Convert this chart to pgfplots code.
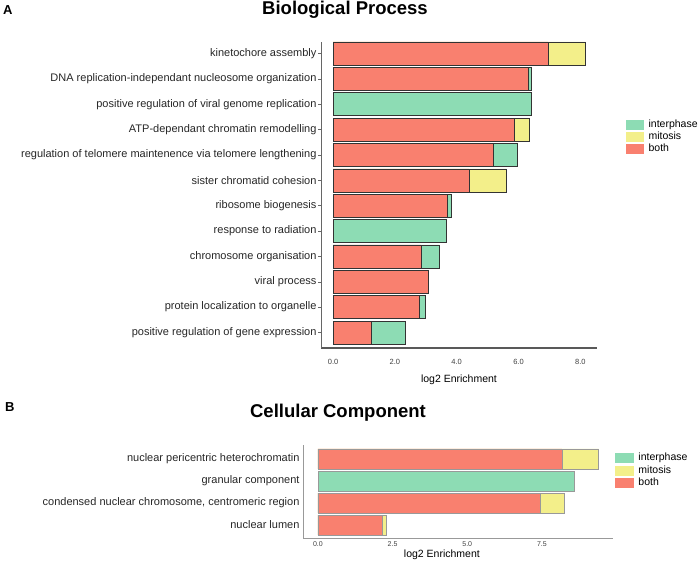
\documentclass[border=0pt]{standalone}
\usepackage{fontspec}
\setmainfont{Liberation Sans}
\usepackage{pgfplots}
\pgfplotsset{compat=1.18}
\definecolor{cboth}{HTML}{F9806F}
\definecolor{cinter}{HTML}{8DDCB4}
\definecolor{cmit}{HTML}{F3EF8A}
\begin{document}
\begin{tikzpicture}[x=1pt,y=1pt]
\path[use as bounding box] (0,0) rectangle (700,562);
\node[anchor=base west, inner sep=0pt, font=\bfseries\fontsize{13}{15}\selectfont] at (3,547.5) {A};
\node[anchor=base, inner sep=0pt, font=\bfseries\fontsize{18.5}{21}\selectfont] at (345,547) {Biological Process};
\begin{axis}[
  at={(321pt,214pt)}, anchor=south west, scale only axis,
  width=276pt, height=306pt,
  xmin=-0.39, xmax=8.54, ymin=-0.611, ymax=11.453,
  axis x line*=bottom, axis y line*=left,
  x axis line style={-, line width=1.2pt, draw=black!65},
  y axis line style={-, line width=0.6pt, draw=black!60},
  /pgf/number format/assume math mode=true,
  xtick={0,2,4,6,8}, xticklabels={0.0,2.0,4.0,6.0,8.0},
  x tick style={draw=none},
  xticklabel style={font=\fontsize{7.5}{8}\selectfont, text=black!75, yshift=-5pt},
  ytick={0,...,11},
  yticklabels={positive regulation of gene expression, protein localization to organelle, viral process, chromosome organisation, response to radiation, ribosome biogenesis, sister chromatid cohesion, regulation of telomere maintenence via telomere lengthening, ATP-dependant chromatin remodelling, positive regulation of viral genome replication, DNA replication-independant nucleosome organization, kinetochore assembly},
  yticklabel style={font=\fontsize{11}{12}\selectfont, text=black!85, xshift=2pt},
  y tick style={draw=black!60, line width=0.5pt},
  tick align=outside, major tick length=3pt,
  xlabel={log2 Enrichment},
  xlabel style={font=\fontsize{10.5}{12}\selectfont, at={(axis description cs:0.5,-0.105)}, anchor=center},
  legend cell align=left,
  legend style={draw=none, fill=none, at={(axis description cs:1.105,0.746)}, anchor=north west,
    font=\fontsize{10.5}{12}\selectfont, inner sep=0pt, row sep=1.5pt,
    nodes={inner sep=0pt, text height=8pt, text depth=2.5pt}},
]
\addlegendimage{legend image code/.code={\fill[cinter] (0pt,-4.5pt) rectangle (17pt,4.5pt); \path (22pt,0pt);}}
\addlegendentry{interphase}
\addlegendimage{legend image code/.code={\fill[cmit] (0pt,-4.5pt) rectangle (17pt,4.5pt); \path (22pt,0pt);}}
\addlegendentry{mitosis}
\addlegendimage{legend image code/.code={\fill[cboth] (0pt,-4.5pt) rectangle (17pt,4.5pt); \path (22pt,0pt);}}
\addlegendentry{both}
% totals (interphase-topped bars)
\addplot[forget plot, xbar, bar width=23pt, bar shift=0pt, fill=cinter, draw=black!80, line width=0.6pt]
  coordinates {(2.35,0) (2.99,1) (3.44,3) (3.67,4) (3.81,5) (5.95,7) (6.40,9) (6.41,10)};
% totals (mitosis-topped bars)
\addplot[forget plot, xbar, bar width=23pt, bar shift=0pt, fill=cmit, draw=black!80, line width=0.6pt]
  coordinates {(5.60,6) (6.36,8) (8.17,11)};
% both
\addplot[forget plot, xbar, bar width=23pt, bar shift=0pt, fill=cboth, draw=black!80, line width=0.6pt]
  coordinates {(1.24,0) (2.80,1) (3.07,2) (2.85,3) (3.71,5) (4.40,6) (5.17,7) (5.88,8) (6.33,10) (6.96,11)};
\end{axis}

\node[anchor=base west, inner sep=0pt, font=\bfseries\fontsize{13}{15}\selectfont] at (5,151) {B};
\node[anchor=base, inner sep=0pt, font=\bfseries\fontsize{18.5}{21}\selectfont] at (338,145) {Cellular Component};
\begin{axis}[
  at={(303pt,24pt)}, anchor=south west, scale only axis,
  width=310pt, height=93pt,
  xmin=-0.50, xmax=9.88, ymin=-0.59, ymax=3.636,
  axis x line*=bottom, axis y line*=left,
  axis line style={-, line width=0.8pt, draw=black!40},
  /pgf/number format/assume math mode=true,
  xtick={0,2.5,5,7.5}, xticklabels={0.0,2.5,5.0,7.5},
  xticklabel style={font=\fontsize{7}{8}\selectfont, text=black!75, yshift=0pt},
  ytick={0,1,2,3},
  yticklabels={nuclear lumen, {condensed nuclear chromosome, centromeric region}, granular component, nuclear pericentric heterochromatin},
  yticklabel style={font=\fontsize{11}{12}\selectfont, text=black!85},
  major tick length=0pt, tick style={draw=none},
  xlabel={log2 Enrichment},
  xlabel style={font=\fontsize{10.5}{12}\selectfont, at={(axis description cs:0.448,-0.183)}, anchor=center},
  legend cell align=left,
  legend style={draw=none, fill=none, at={(axis description cs:1.006,0.919)}, anchor=north west,
    font=\fontsize{10.5}{12}\selectfont, inner sep=0pt, row sep=2pt,
    nodes={inner sep=0pt, text height=8pt, text depth=2.5pt}},
]
\addlegendimage{legend image code/.code={\fill[cinter] (0pt,-4.5pt) rectangle (18pt,4.5pt); \path (23pt,0pt);}}
\addlegendentry{interphase}
\addlegendimage{legend image code/.code={\fill[cmit] (0pt,-4.5pt) rectangle (18pt,4.5pt); \path (23pt,0pt);}}
\addlegendentry{mitosis}
\addlegendimage{legend image code/.code={\fill[cboth] (0pt,-4.5pt) rectangle (18pt,4.5pt); \path (23pt,0pt);}}
\addlegendentry{both}
\addplot[forget plot, xbar, bar width=20pt, bar shift=0pt, fill=cmit, draw=black!40, line width=0.5pt]
  coordinates {(2.30,0) (8.25,1) (9.40,3)};
\addplot[forget plot, xbar, bar width=20pt, bar shift=0pt, fill=cinter, draw=black!40, line width=0.5pt]
  coordinates {(8.59,2)};
\addplot[forget plot, xbar, bar width=20pt, bar shift=0pt, fill=cboth, draw=black!40, line width=0.5pt]
  coordinates {(2.14,0) (7.43,1) (8.17,3)};
\end{axis}
\end{tikzpicture}
\end{document}
